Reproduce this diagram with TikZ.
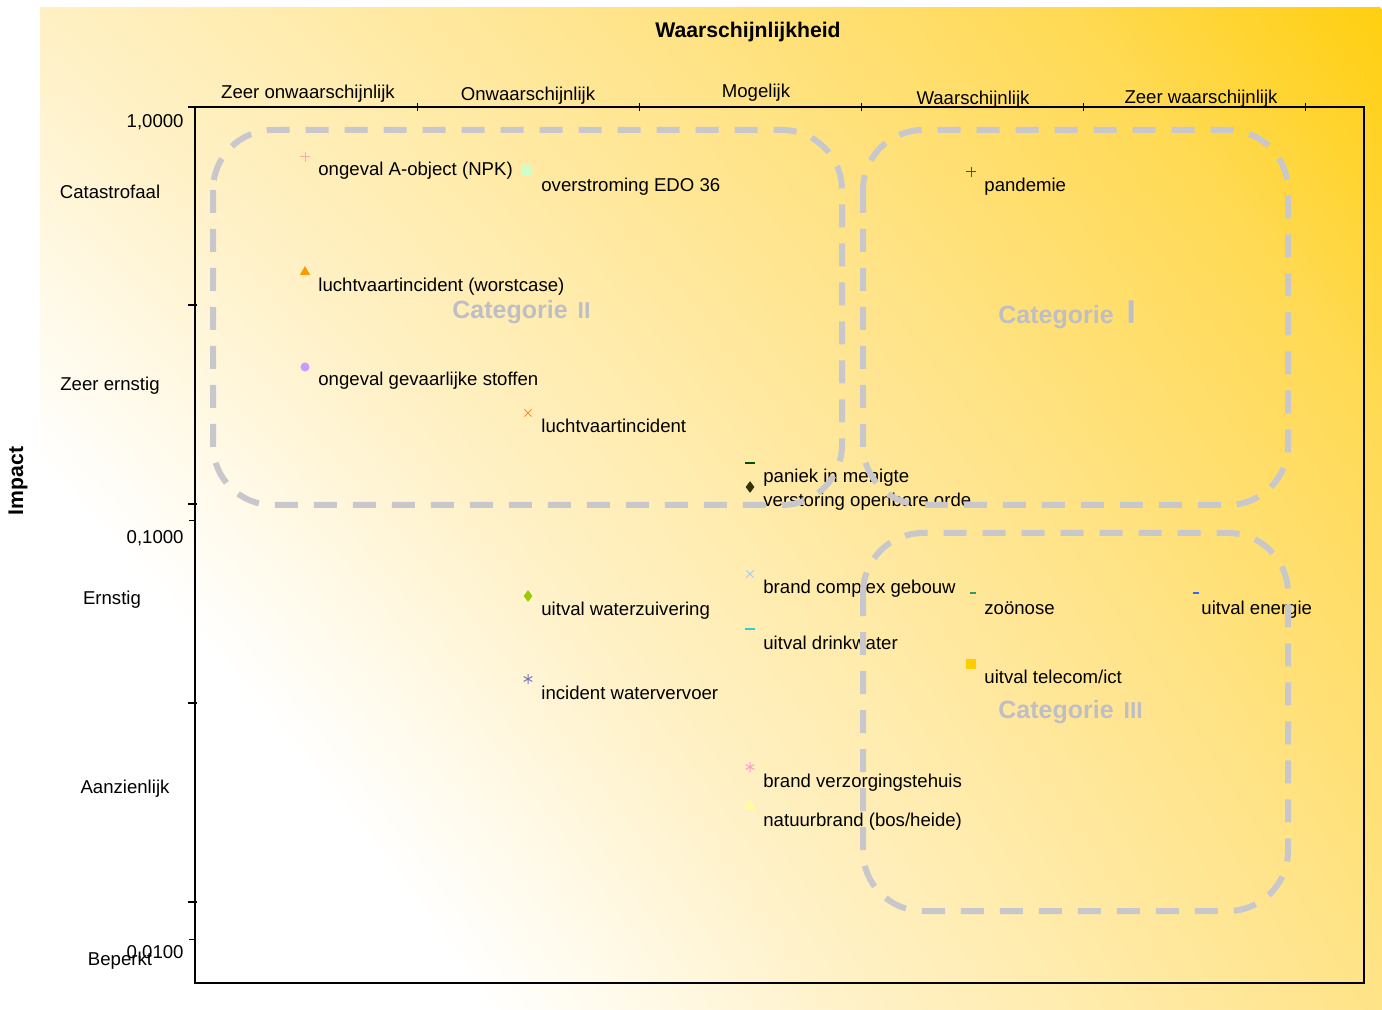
\documentclass[tikz,border=0pt]{standalone}
\usepackage{fontspec}
\setmainfont{Liberation Sans}
\usetikzlibrary{plotmarks}

\definecolor{goud}{RGB}{255,207,15}
\definecolor{room}{RGB}{255,241,198}
\definecolor{lichtgoud}{RGB}{255,228,140}
\definecolor{middengoud}{RGB}{255,218,85}
\definecolor{kadergrijs}{RGB}{200,200,204}
\definecolor{catgrijs}{RGB}{190,190,198}
\definecolor{zalm}{RGB}{255,170,160}
\definecolor{lichtgroen}{RGB}{204,255,204}
\definecolor{leisteen}{RGB}{51,85,102}
\definecolor{oranje}{RGB}{255,153,0}
\definecolor{lila}{RGB}{204,153,255}
\definecolor{oranjex}{RGB}{255,140,50}
\definecolor{donkergroen}{RGB}{0,80,0}
\definecolor{olijf}{RGB}{51,51,0}
\definecolor{lichtblauw}{RGB}{153,204,255}
\definecolor{geelgroen}{RGB}{153,204,0}
\definecolor{zeegroen}{RGB}{51,153,102}
\definecolor{blauw}{RGB}{51,102,255}
\definecolor{cyaan}{RGB}{51,204,204}
\definecolor{goudgeel}{RGB}{255,204,0}
\definecolor{paars}{RGB}{120,120,190}
\definecolor{roze}{RGB}{255,153,204}
\definecolor{bleekgeel}{RGB}{255,255,153}

\pgfdeclareradialshading{achtergrond}{\pgfpoint{0bp}{0bp}}{color(0bp)=(white); color(19.2bp)=(white); color(20.6bp)=(room); color(22.4bp)=(lichtgoud); color(23.9bp)=(middengoud); color(25bp)=(goud); color(50bp)=(goud)}

\begin{document}
\begin{tikzpicture}[x=0.5pt, y=-0.5pt]
    % Stili
    \tikzstyle{risico}=[anchor=base west, inner sep=0pt, font=\fontsize{9.3}{11}\selectfont]
    \tikzstyle{asse}=[font=\fontsize{9.3}{11}\selectfont]
    \tikzstyle{titolo}=[font=\fontsize{10.6}{12}\selectfont\bfseries]
    \tikzstyle{categorie}=[anchor=base west, inner sep=0pt, text=catgrijs, font=\fontsize{12.5}{14}\selectfont\bfseries]
    \tikzstyle{kader}=[draw=kadergrijs, line width=3pt, dash pattern=on 11.5pt off 8pt, rounded corners=30pt]
    \tikzstyle{merk}=[only marks, mark size=2.5pt, line width=0.5pt]

    \useasboundingbox (0,0) rectangle (1382,1010);

    % Sfondo
    \begin{scope}
        \clip (40,8) rectangle (1382,1010);
        \shade[shading=achtergrond] (-3084,3510) circle (5674);
    \end{scope}

    % Assi e tacche
    \draw[line width=0.6pt] (195,107) rectangle (1364,983);
    \draw[line width=0.6pt] (189,107) -- (195,107);
    \foreach \x in {417,639,861,1083,1305}
        \draw[line width=0.5pt] (\x,103) -- (\x,111);
    \foreach \y in {107,305,504,703,902}
        \draw[line width=1.1pt] (188,\y) -- (197,\y);
    \foreach \y in {521,939}
        \draw[line width=0.5pt] (189,\y) -- (195,\y);

    % Titoli
    \node[titolo] (kans) at (748,32) {Waarschijnlijkheid};
    \node[titolo, rotate=90] (impact) at (18,481) {Impact};

    % Classi di probabilita
    \node[asse] (k1) at (308,94) {Zeer onwaarschijnlijk};
    \node[asse] (k2) at (528,96) {Onwaarschijnlijk};
    \node[asse] (k3) at (756,93) {Mogelijk};
    \node[asse] (k4) at (973,100) {Waarschijnlijk};
    \node[asse] (k5) at (1201,99) {Zeer waarschijnlijk};

    % Classi di impatto
    \node[asse] (i1) at (110,192) {Catastrofaal};
    \node[asse] (i2) at (110,386) {Zeer ernstig};
    \node[asse] (i3) at (112,600) {Ernstig};
    \node[asse] (i4) at (125,789) {Aanzienlijk};
    \node[asse] (i5) at (120,961) {Beperkt};
    \node[asse, anchor=east, inner sep=0pt] (w1) at (184,122) {1,0000};
    \node[asse, anchor=east, inner sep=0pt] (w2) at (184,538) {0,1000};
    \node[asse, anchor=east, inner sep=0pt] (w3) at (184,953) {0,0100};

    % Scenari
    \node[risico] (npk) at (318,176) {ongeval A-object (NPK)};
    \node[risico] (edo) at (541,192) {overstroming EDO 36};
    \node[risico] (pandemie) at (984,192) {pandemie};
    \node[risico] (luchtw) at (318,292) {luchtvaartincident (worstcase)};
    \node[risico] (stoffen) at (318,386) {ongeval gevaarlijke stoffen};
    \node[risico] (lucht) at (541,433) {luchtvaartincident};
    \node[risico] (paniek) at (763,483) {paniek in menigte};
    \node[risico] (orde) at (763,507) {verstoring openbare orde};
    \node[risico] (gebouw) at (763,593) {brand complex gebouw};
    \node[risico] (zuivering) at (541,616) {uitval waterzuivering};
    \node[risico] (zoonose) at (984,614) {zoönose};
    \node[risico] (energie) at (1201,614) {uitval energie};
    \node[risico] (drinkwater) at (763,649) {uitval drinkwater};
    \node[risico] (telecom) at (984,683) {uitval telecom/ict};
    \node[risico] (vervoer) at (541,699) {incident watervervoer};
    \node[risico] (zorg) at (763,787) {brand verzorgingstehuis};
    \node[risico] (natuur) at (763,826) {natuurbrand (bos/heide)};

    % Marcatori
    \draw[merk, color=zalm] plot[mark=+] coordinates {(305,157)};
    \draw[merk, color=lichtgroen, mark size=2.2pt] plot[mark=square*] coordinates {(527,171)};
    \draw[merk, color=leisteen] plot[mark=+] coordinates {(971,172)};
    \draw[merk, color=oranje] plot[mark=triangle*] coordinates {(305,272)};
    \draw[merk, color=lila, mark size=2pt] plot[mark=*] coordinates {(305,367)};
    \draw[merk, color=oranjex] plot[mark=x] coordinates {(528,413)};
    \draw[merk, color=donkergroen, line width=1.2pt, mark size=2.3pt] plot[mark=-] coordinates {(750,463)};
    \draw[merk, color=olijf] plot[mark=diamond*] coordinates {(750,487)};
    \draw[merk, color=lichtblauw] plot[mark=x] coordinates {(750,574)};
    \draw[merk, color=geelgroen] plot[mark=diamond*] coordinates {(528,596)};
    \draw[merk, color=zeegroen, line width=1.2pt, mark size=1.5pt] plot[mark=-] coordinates {(973,593)};
    \draw[merk, color=blauw, line width=1.2pt, mark size=1.5pt] plot[mark=-] coordinates {(1196,593)};
    \draw[merk, color=cyaan, line width=1.2pt, mark size=2.3pt] plot[mark=-] coordinates {(750,629)};
    \draw[merk, color=goudgeel, mark size=2.2pt] plot[mark=square*] coordinates {(971,664)};
    \draw[merk, color=paars] plot[mark=asterisk] coordinates {(528,679)};
    \draw[merk, color=roze] plot[mark=asterisk] coordinates {(750,767)};
    \draw[merk, color=bleekgeel] plot[mark=triangle*] coordinates {(750,806)};

    % Riquadri delle categorie
    \draw[kader] (213,130) rectangle (842,505);
    \draw[kader] (863,130) rectangle (1288,505);
    \draw[kader] (863,533) rectangle (1288,911);

    \node[categorie] (cat2) at (452,319) {Categorie\hspace{1.5pt} {\fontsize{11.5}{13}\selectfont II}};
    \node[categorie] (cat1) at (998,324) {Categorie\hspace{3pt} {\fontsize{16.5}{18}\selectfont I}};
    \node[categorie] (cat3) at (998,718) {Categorie\hspace{1.5pt} {\fontsize{11.5}{13}\selectfont III}};
\end{tikzpicture}
\end{document}
